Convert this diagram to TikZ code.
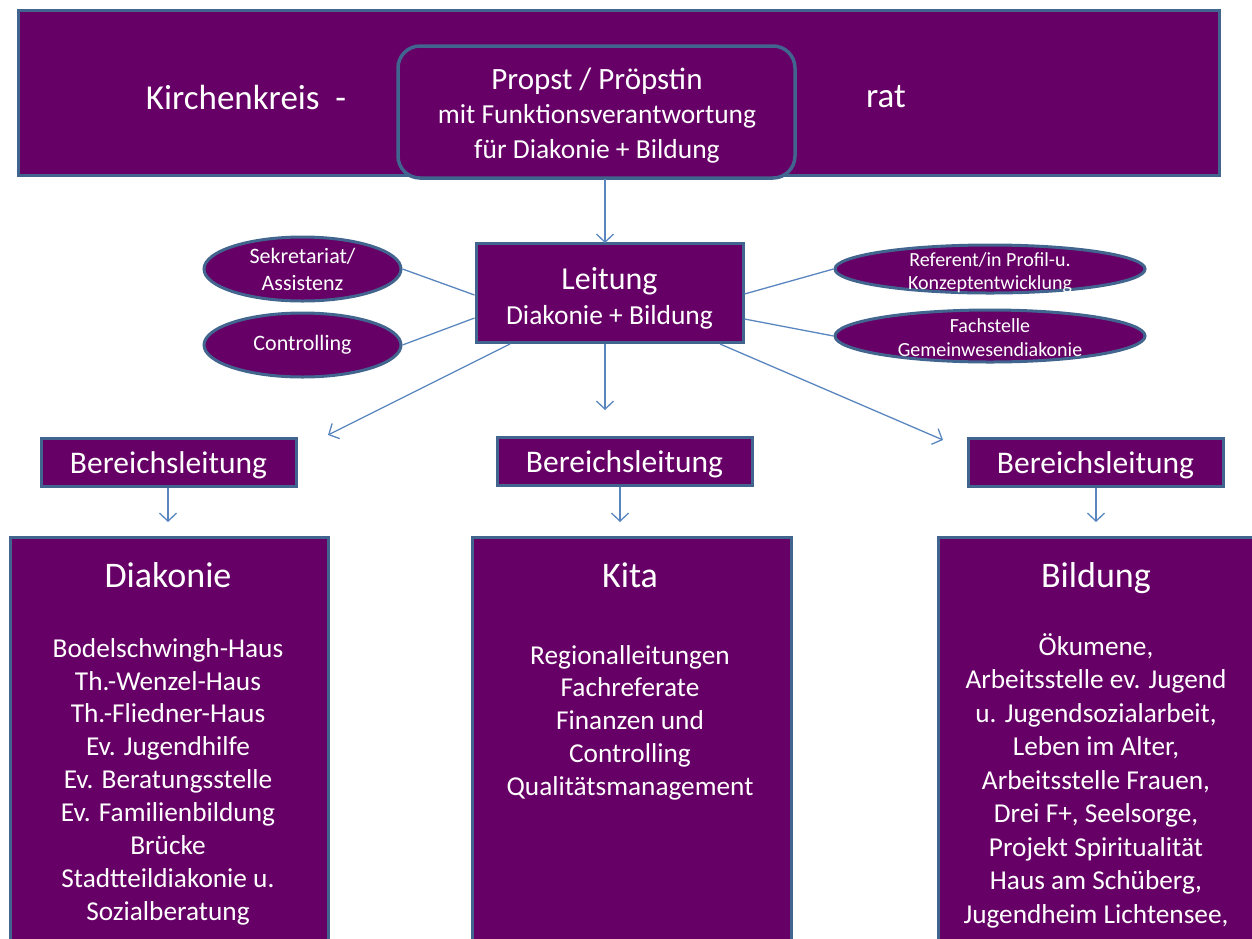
\documentclass[tikz,border=0pt]{standalone}
\usepackage{fontspec}
\setmainfont{Carlito}
\usetikzlibrary{arrows.meta,shapes.geometric}
\definecolor{purp}{HTML}{660066}
\definecolor{edgeblue}{HTML}{41658E}
\definecolor{arrblue}{HTML}{5A86BF}
\begin{document}
\begin{tikzpicture}[x=1pt,y=-1pt,
  box/.style={draw=edgeblue, line width=3pt, fill=purp, text=white, inner sep=0pt, align=center},
  ell/.style={ellipse, draw=edgeblue, line width=3pt, fill=purp, text=white, inner sep=0pt, align=center},
  lbl/.style={text=white, inner sep=0pt, align=center},
  conn/.style={draw=arrblue, line width=1.3pt},
  arrowc/.style={conn, -{Straight Barb[length=8pt,width=17pt,line width=1.3pt]}}]
\useasboundingbox (0,0) rectangle (1252,938);
\clip (0,0) rectangle (1252,938);

% top banner
\node[box, minimum width=1201pt, minimum height=165pt] (banner) at (618.5,92.5) {};
\node[lbl, font=\fontsize{35}{40}\selectfont] (kk) at (246,97) {Kirchenkreis\ \ -};
\node[lbl, font=\fontsize{35}{40}\selectfont] (rat) at (886,97) {rat};
\node[box, rounded corners=22pt, line width=3.5pt, minimum width=397pt, minimum height=132pt] (propst) at (596.5,112) {};
\node[lbl, font=\fontsize{27.5}{34.5}\selectfont] (propstT) at (597,115.5)
  {{\fontsize{31}{34.5}\selectfont Propst / Pröpstin}\\mit Funktionsverantwortung\\für Diakonie + Bildung};

% Leitung
\node[box, minimum width=267pt, minimum height=99pt] (leitung) at (609.5,293) {};
\node[lbl, font=\fontsize{27.5}{35}\selectfont] (leitungT) at (609.5,298)
  {{\fontsize{32}{35}\selectfont Leitung}\\Diakonie + Bildung};

% ellipses
\node[ell, minimum width=197pt, minimum height=64pt, font=\fontsize{22}{27}\selectfont] (sekr) at (302.5,269) {Sekretariat/\\Assistenz};
\node[ell, minimum width=197pt, minimum height=64pt, font=\fontsize{22}{27}\selectfont, text depth=5pt] (contr) at (302.5,345) {Controlling};
\node[ell, minimum width=310pt, minimum height=48pt] (ref) at (990,269) {};
\node[lbl, font=\fontsize{20}{23}\selectfont] (refT) at (990,273) {Referent/in Profil-u.\\Konzeptentwicklung};
\node[ell, minimum width=310pt, minimum height=52pt] (fach) at (990,336) {};
\node[lbl, font=\fontsize{20}{24}\selectfont] (fachT) at (990,338) {Fachstelle\\Gemeinwesendiakonie};

% Bereichsleitung
\node[box, minimum width=255pt, minimum height=48pt] (bl1) at (168.5,462) {};
\node[box, minimum width=255pt, minimum height=48pt] (bl2) at (624.5,461) {};
\node[box, minimum width=255pt, minimum height=48pt] (bl3) at (1095.5,462) {};
\node[lbl, anchor=base, font=\fontsize{31.5}{34}\selectfont] (bl1t) at (168.5,473) {Bereichsleitung};
\node[lbl, anchor=base, font=\fontsize{31.5}{34}\selectfont] (bl2t) at (624.5,472) {Bereichsleitung};
\node[lbl, anchor=base, font=\fontsize{31.5}{34}\selectfont] (bl3t) at (1095.5,473) {Bereichsleitung};

% big boxes
\node[box, anchor=north west, minimum width=318pt, minimum height=430pt] (diak) at (9,536) {};
\node[box, anchor=north west, minimum width=319pt, minimum height=430pt] (kita) at (471,536) {};
\node[box, anchor=north west, minimum width=330pt, minimum height=430pt] (bild) at (937,536) {};

\node[lbl, anchor=base, font=\fontsize{36}{40}\selectfont] (diakT) at (168,587) {Diakonie};
\node[lbl, anchor=base, font=\fontsize{36}{40}\selectfont] (kitaT) at (630,587) {Kita};
\node[lbl, anchor=base, font=\fontsize{36}{40}\selectfont] (bildT) at (1096,587) {Bildung};

\node[lbl, anchor=north, font=\fontsize{27.3}{32.9}\selectfont] (diakL) at (168,638)
  {Bodelschwingh-Haus\\Th.-Wenzel-Haus\\Th.-Fliedner-Haus\\Ev. Jugendhilfe\\Ev. Beratungsstelle\\Ev. Familienbildung\\Brücke\\Stadtteildiakonie u.\\Sozialberatung};
\node[lbl, anchor=north, font=\fontsize{27.3}{32.8}\selectfont] (kitaL) at (630,645)
  {Regionalleitungen\\Fachreferate\\Finanzen und\\Controlling\\Qualitätsmanagement};
\node[lbl, anchor=north, font=\fontsize{27.3}{33.5}\selectfont] (bildL) at (1096,633)
  {Ökumene,\\Arbeitsstelle ev. Jugend\\u. Jugendsozialarbeit,\\Leben im Alter,\\Arbeitsstelle Frauen,\\Drei F+, Seelsorge,\\Projekt Spiritualität\\Haus am Schüberg,\\Jugendheim Lichtensee,};

% connectors
\coordinate (pA) at (605,178.5);
\coordinate (pB) at (605,243);
\draw[arrowc] (pA) -- (pB);

\draw[conn] (sekr.east) -- (leitung.west |- 0,295);
\draw[conn] (contr.east) -- (leitung.west |- 0,318);
\draw[conn] (ref.west) -- (leitung.east |- 0,294);
\draw[conn] (fach.west) -- (leitung.east |- 0,319);

\coordinate (l1s) at (510,344);
\coordinate (l1e) at (328,435);
\coordinate (l2s) at (605,344);
\coordinate (l2e) at (605,410);
\coordinate (l3s) at (720,344);
\coordinate (l3e) at (943,440);
\draw[arrowc] (l1s) -- (l1e);
\draw[arrowc] (l2s) -- (l2e);
\draw[arrowc] (l3s) -- (l3e);

\draw[arrowc] (bl1.south -| 168,0) -- (168,522);
\draw[arrowc] (bl2.south -| 620,0) -- (620,522);
\draw[arrowc] (bl3.south -| 1096,0) -- (1096,522);
\end{tikzpicture}
\end{document}
